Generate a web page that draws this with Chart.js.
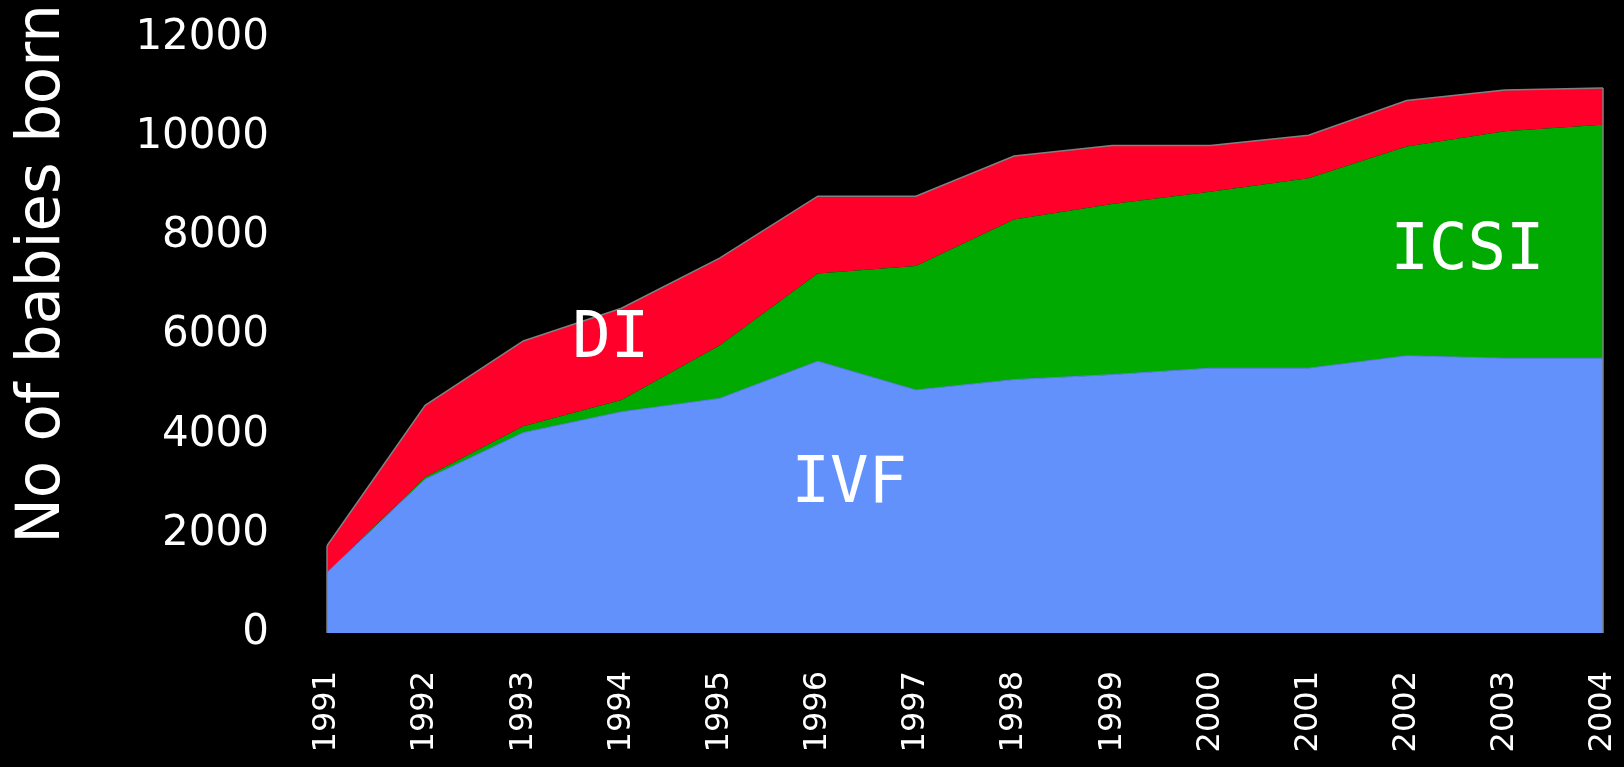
<!DOCTYPE html>
<html>
<head>
<meta charset="utf-8">
<script src="https://cdn.jsdelivr.net/npm/chart.js@4/dist/chart.umd.min.js"></script>
<style>
  html, body { margin: 0; padding: 0; background: #000; }
  #wrap { width: 1624px; height: 767px; }
</style>
</head>
<body>
<div id="wrap"><canvas id="babiesChart"></canvas></div>
<script>
// Years on the x axis
const years = ["1991", "1992", "1993", "1994", "1995", "1996", "1997",
               "1998", "1999", "2000", "2001", "2002", "2003", "2004"];

// Babies born per treatment (stacked: IVF, then ICSI, then DI on top)
const ivfBabies  = [1220, 3100, 4040, 4460, 4730, 5480, 4900, 5110, 5210, 5340, 5340, 5590, 5540, 5540];
const icsiBabies = [0, 40, 130, 240, 1070, 1770, 2500, 3230, 3440, 3560, 3830, 4220, 4580, 4710];
const diBabies   = [540, 1450, 1720, 1850, 1760, 1560, 1410, 1280, 1180, 930, 870, 930, 830, 740];

// Y axis ticks
const yTicks = [0, 2000, 4000, 6000, 8000, 10000, 12000];

// Text labels placed inside the areas (x = year index, y = babies)
const areaLabels = [
  { text: "DI",   x: 2.89,  y: 5900 },
  { text: "IVF",  x: 5.32,  y: 2980 },
  { text: "ICSI", x: 11.62, y: 7670 }
];

const white = "#ffffff";

// Draws area labels, the y axis title and the grey side edges
const extrasPlugin = {
  id: "extras",
  afterDatasetsDraw(chart) {
    const ctx = chart.ctx;
    const xs = chart.scales.x, ys = chart.scales.y;

    // grey edges on left and right of the stacked area
    const last = years.length - 1;
    const topFirst = ivfBabies[0] + icsiBabies[0] + diBabies[0];
    const topLast = ivfBabies[last] + icsiBabies[last] + diBabies[last];
    ctx.save();
    ctx.strokeStyle = "#808080";
    ctx.lineWidth = 1.5;
    ctx.beginPath();
    ctx.moveTo(xs.getPixelForValue(0), ys.getPixelForValue(0));
    ctx.lineTo(xs.getPixelForValue(0), ys.getPixelForValue(topFirst));
    ctx.moveTo(xs.getPixelForValue(last), ys.getPixelForValue(0));
    ctx.lineTo(xs.getPixelForValue(last), ys.getPixelForValue(topLast));
    ctx.stroke();
    ctx.restore();

    // labels inside the areas
    ctx.save();
    ctx.fillStyle = white;
    ctx.font = "64px 'DejaVu Sans Mono'";
    ctx.textAlign = "center";
    ctx.textBaseline = "middle";
    areaLabels.forEach(l => {
      ctx.fillText(l.text, xs.getPixelForValue(l.x), ys.getPixelForValue(l.y));
    });
    ctx.restore();

    // y axis title
    ctx.save();
    ctx.fillStyle = white;
    ctx.font = "61px 'DejaVu Sans'";
    ctx.textAlign = "center";
    ctx.textBaseline = "middle";
    ctx.translate(43, 274);
    ctx.rotate(-Math.PI / 2);
    ctx.fillText("No of babies born", 0, 0);
    ctx.restore();
  }
};

new Chart(document.getElementById("babiesChart"), {
  type: "line",
  data: {
    labels: years,
    datasets: [
      {
        label: "IVF",
        data: ivfBabies,
        backgroundColor: "#6391fb",
        borderColor: "#5a84e6",
        borderWidth: 1,
        fill: "origin",
        pointRadius: 0,
        tension: 0
      },
      {
        label: "ICSI",
        data: icsiBabies,
        backgroundColor: "#00aa00",
        borderColor: "#00aa00",
        borderWidth: 0,
        fill: "-1",
        pointRadius: 0,
        tension: 0
      },
      {
        label: "DI",
        data: diBabies,
        backgroundColor: "#ff002b",
        borderColor: "#808080",
        borderWidth: 1.5,
        fill: "-1",
        pointRadius: 0,
        tension: 0
      }
    ]
  },
  options: {
    responsive: true,
    maintainAspectRatio: false,
    animation: false,
    layout: { padding: { top: 38, right: 21, bottom: 0, left: 0 } },
    plugins: {
      legend: { display: false },
      tooltip: { enabled: false }
    },
    scales: {
      x: {
        grid: { display: false, drawTicks: false },
        border: { display: false },
        afterFit(scale) {
          scale.height = 134;
          scale.paddingLeft = 0;
          scale.paddingRight = 0;
        },
        ticks: {
          color: white,
          font: { family: "DejaVu Sans", size: 32 },
          minRotation: 90,
          maxRotation: 90,
          padding: 38,
          autoSkip: false
        }
      },
      y: {
        stacked: true,
        min: 0,
        max: 12000,
        grid: { display: false, drawTicks: false },
        border: { display: false },
        afterFit(scale) {
          scale.width = 327;
          scale.paddingTop = 0;
          scale.paddingBottom = 0;
        },
        afterBuildTicks(scale) {
          scale.ticks = yTicks.map(v => ({ value: v }));
        },
        ticks: {
          color: white,
          font: { family: "DejaVu Sans", size: 42 },
          padding: 58,
          callback: v => String(v)
        }
      }
    }
  },
  plugins: [extrasPlugin]
});
</script>
</body>
</html>
